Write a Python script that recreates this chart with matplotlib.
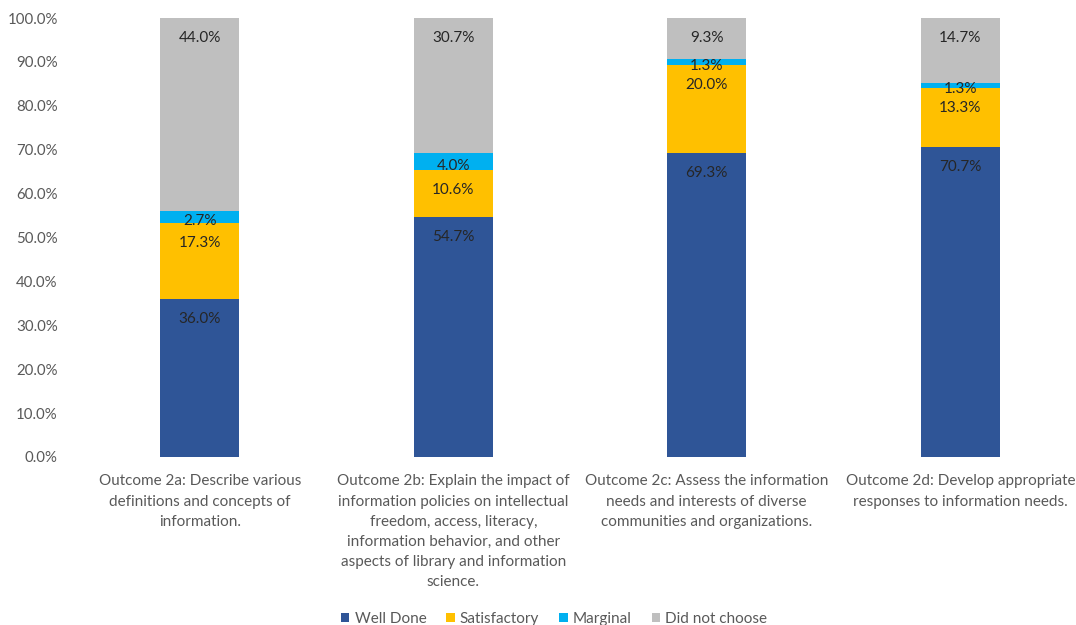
import matplotlib

matplotlib.use("Agg")
import matplotlib.pyplot as plt
import numpy as np

plt.rcParams["font.family"] = ["Lato", "DejaVu Sans"]

CATEGORIES = [
    "Outcome 2a: Describe various\ndefinitions and concepts of\ninformation.",
    "Outcome 2b: Explain the impact of\ninformation policies on intellectual\nfreedom, access, literacy,\n"
    "information behavior, and other\naspects of library and information\nscience.",
    "Outcome 2c: Assess the information\nneeds and interests of diverse\ncommunities and organizations.",
    "Outcome 2d: Develop appropriate\nresponses to information needs.",
]
SERIES = ["Well Done", "Satisfactory", "Marginal", "Did not choose"]
WELL_DONE = [36.0, 54.7, 69.3, 70.7]
SATISFACTORY = [17.3, 10.6, 20.0, 13.3]
MARGINAL = [2.7, 4.0, 1.3, 1.3]
DID_NOT_CHOOSE = [44.0, 30.7, 9.3, 14.7]
COLORS = ["#2F5597", "#FFC000", "#00B0F0", "#BFBFBF"]

TEXT_GREY = "#595959"

fig = plt.figure(figsize=(10.76, 6.25), dpi=100)
ax = fig.add_axes([73 / 1076, 1 - 457 / 625, 1014 / 1076, 439 / 625])

x = np.arange(len(CATEGORIES))
px_per_unit = 439 / 100
bottom = np.zeros(len(CATEGORIES))
for name, vals, color in zip(SERIES, [WELL_DONE, SATISFACTORY, MARGINAL, DID_NOT_CHOOSE], COLORS):
    vals = np.array(vals)
    ax.bar(x, vals, 0.31, bottom=bottom, color=color, label=name)
    tops = bottom + vals
    # Excel "inside end" labels; small segments get pulled up toward their middle
    for xi, top, v in zip(x, tops, vals):
        off_px = min(20, v * px_per_unit * 0.5 + 4)
        ax.annotate(f"{v:.1f}%", (xi, top), xytext=(0, -off_px), textcoords="offset pixels",
                    ha="center", va="center", fontsize=11, color="#262626")
    bottom = tops

ax.set_xlim(-0.5, len(CATEGORIES) - 0.5)
ax.set_ylim(0, 100)
ax.set_yticks(np.arange(0, 101, 10))
ax.set_yticklabels([f"{t:.1f}%" for t in np.arange(0, 101, 10)])
ax.set_xticks(x)
ax.set_xticklabels(CATEGORIES, fontsize=11, color=TEXT_GREY, linespacing=1.56, va="top")
ax.tick_params(axis="y", length=0, pad=11, labelsize=10.8, labelcolor=TEXT_GREY)
ax.tick_params(axis="x", length=0, pad=12.5)
for s in ax.spines.values():
    s.set_visible(False)

fig.legend(loc="lower center", bbox_to_anchor=(0.515, -0.024), ncol=4, frameon=False,
           fontsize=11, labelcolor=TEXT_GREY, handlelength=0.55, handleheight=0.55,
           handletextpad=0.35, columnspacing=1.3)

fig.savefig("out.png", dpi=100)
